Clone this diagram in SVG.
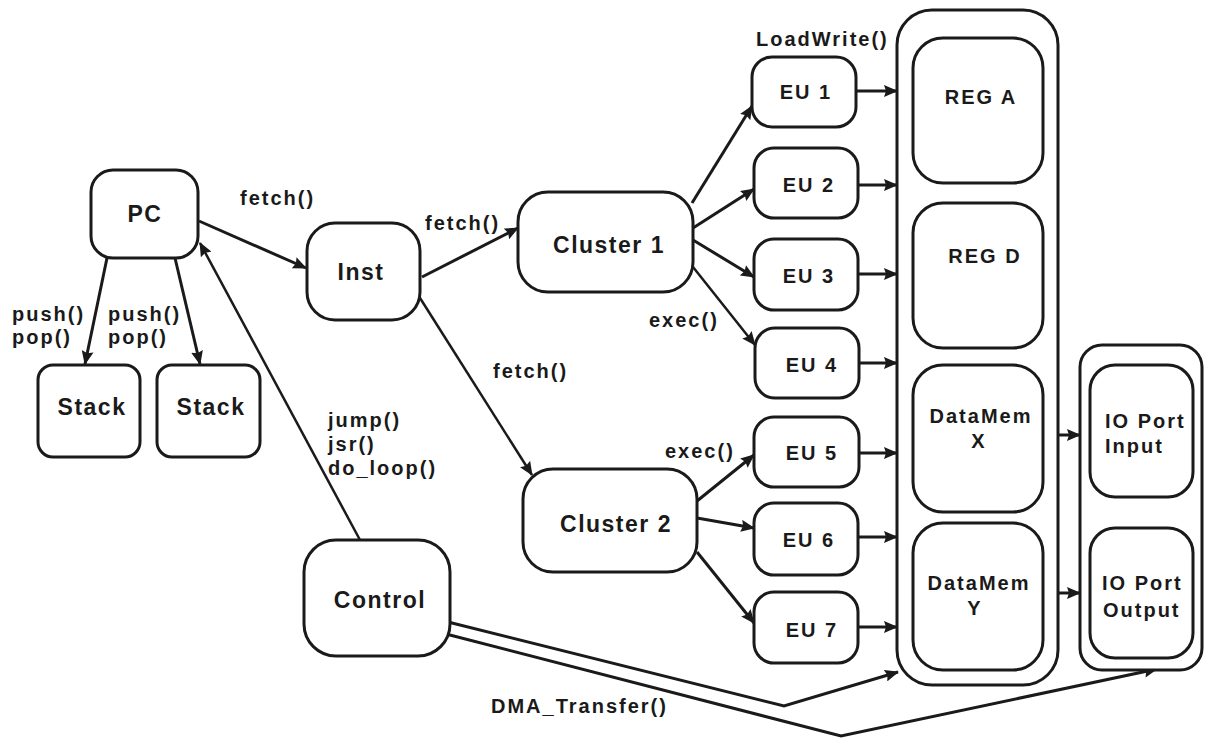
<svg xmlns="http://www.w3.org/2000/svg" width="1209" height="738" viewBox="0 0 1209 738">
<defs>
<style>
.box{fill:#fff;stroke:#1a1a1a;stroke-width:3}
.nl{font-family:"Liberation Sans",Arial,sans-serif;font-weight:bold;font-size:23px;letter-spacing:1.5px;fill:#1a1a1a;text-anchor:middle}
.sl{font-family:"Liberation Sans",Arial,sans-serif;font-weight:bold;font-size:20px;letter-spacing:2px;fill:#1a1a1a}
.c{fill:none;stroke:#1a1a1a;stroke-width:3}
.t{fill:none;stroke:#1a1a1a;stroke-width:2.5}
</style>
<marker id="ah" viewBox="0 0 14 12" refX="13" refY="6" markerWidth="14" markerHeight="12" markerUnits="userSpaceOnUse" orient="auto">
<path d="M0,0 L14,6 L0,12 L2,6 z" fill="#1a1a1a"/>
</marker>
</defs>
<rect width="1209" height="738" fill="#fff"/>

<g id="connectors">
<line class="c" x1="199" y1="221" x2="306" y2="268" marker-end="url(#ah)"/>
<line class="c" x1="107" y1="258" x2="85" y2="364" marker-end="url(#ah)"/>
<line class="c" x1="175" y1="258" x2="200" y2="364" marker-end="url(#ah)"/>
<line class="c" x1="422" y1="277" x2="518" y2="228" marker-end="url(#ah)"/>
<line class="t" x1="420" y1="298" x2="532" y2="475" marker-end="url(#ah)"/>
<line class="t" x1="360" y1="540" x2="200" y2="243" marker-end="url(#ah)"/>
<line class="c" x1="692" y1="203" x2="752" y2="106" marker-end="url(#ah)"/>
<line class="c" x1="693" y1="228" x2="754" y2="189" marker-end="url(#ah)"/>
<line class="c" x1="693" y1="240" x2="754" y2="277" marker-end="url(#ah)"/>
<line class="t" x1="693" y1="267" x2="755" y2="345" marker-end="url(#ah)"/>
<line class="c" x1="697" y1="501" x2="754" y2="455" marker-end="url(#ah)"/>
<line class="c" x1="697" y1="518" x2="754" y2="528" marker-end="url(#ah)"/>
<line class="c" x1="697" y1="552" x2="754" y2="623" marker-end="url(#ah)"/>
<line class="c" x1="856" y1="91" x2="897" y2="91" marker-end="url(#ah)"/>
<line class="c" x1="858" y1="185" x2="897" y2="185" marker-end="url(#ah)"/>
<line class="c" x1="858" y1="274" x2="897" y2="274" marker-end="url(#ah)"/>
<line class="c" x1="859" y1="363" x2="897" y2="363" marker-end="url(#ah)"/>
<line class="c" x1="859" y1="453" x2="897" y2="453" marker-end="url(#ah)"/>
<line class="c" x1="858" y1="537" x2="897" y2="537" marker-end="url(#ah)"/>
<line class="c" x1="858" y1="627" x2="897" y2="627" marker-end="url(#ah)"/>
<line class="c" x1="1058" y1="435" x2="1080" y2="435" marker-end="url(#ah)"/>
<line class="c" x1="1058" y1="593" x2="1080" y2="593" marker-end="url(#ah)"/>
<polyline class="c" points="448,622 784,706 898,672" marker-end="url(#ah)"/>
<polyline class="c" points="446,634 841,736 1157,669" marker-end="url(#ah)"/>
</g>

<g id="labels">
<text class="sl" x="240" y="205">fetch()</text>
<text class="sl" x="12" y="321">push()</text>
<text class="sl" x="12" y="344">pop()</text>
<text class="sl" x="108" y="321">push()</text>
<text class="sl" x="108" y="344">pop()</text>
<text class="sl" x="425" y="230">fetch()</text>
<text class="sl" x="493" y="378">fetch()</text>
<text class="sl" x="649" y="327">exec()</text>
<text class="sl" x="665" y="458">exec()</text>
<text class="sl" x="328" y="427">jump()</text>
<text class="sl" x="328" y="451">jsr()</text>
<text class="sl" x="328" y="475">do_loop()</text>
<text class="sl" x="756" y="46">LoadWrite()</text>
<text class="sl" x="491" y="713" font-size="21" letter-spacing="2.2">DMA_Transfer()</text>
</g>

<g id="PC"><rect class="box" x="91" y="170" width="107" height="88" rx="22"/><text class="nl" x="145" y="222">PC</text></g>
<g id="Stack1"><rect class="box" x="38" y="365" width="102" height="92" rx="15"/><text class="nl" x="92" y="415">Stack</text></g>
<g id="Stack2"><rect class="box" x="157" y="365" width="103" height="92" rx="15"/><text class="nl" x="211" y="415">Stack</text></g>
<g id="Inst"><rect class="box" x="307" y="223" width="113" height="97" rx="28"/><text class="nl" x="361" y="280">Inst</text></g>
<g id="Cluster1"><rect class="box" x="518" y="192" width="175" height="100" rx="30"/><text class="nl" x="609" y="253">Cluster 1</text></g>
<g id="Cluster2"><rect class="box" x="523" y="469" width="174" height="103" rx="30"/><text class="nl" x="616" y="532">Cluster 2</text></g>
<g id="Control"><rect class="box" x="304" y="540" width="146" height="116" rx="32"/><text class="nl" x="380" y="608">Control</text></g>

<g id="EU1"><rect class="box" x="752" y="57" width="104" height="70" rx="20"/><text class="sl" x="806" y="99" text-anchor="middle" letter-spacing="3">EU 1</text></g>
<g id="EU2"><rect class="box" x="754" y="148" width="104" height="70" rx="20"/><text class="sl" x="809" y="192" text-anchor="middle" letter-spacing="3">EU 2</text></g>
<g id="EU3"><rect class="box" x="754" y="239" width="104" height="71" rx="20"/><text class="sl" x="809" y="283" text-anchor="middle" letter-spacing="3">EU 3</text></g>
<g id="EU4"><rect class="box" x="755" y="328" width="104" height="70" rx="20"/><text class="sl" x="812" y="372" text-anchor="middle" letter-spacing="3">EU 4</text></g>
<g id="EU5"><rect class="box" x="754" y="417" width="105" height="70" rx="20"/><text class="sl" x="812" y="460" text-anchor="middle" letter-spacing="3">EU 5</text></g>
<g id="EU6"><rect class="box" x="754" y="503" width="104" height="72" rx="20"/><text class="sl" x="809" y="547" text-anchor="middle" letter-spacing="3">EU 6</text></g>
<g id="EU7"><rect class="box" x="754" y="592" width="104" height="71" rx="20"/><text class="sl" x="812" y="637" text-anchor="middle" letter-spacing="3">EU 7</text></g>

<g id="Memory">
<rect class="box" x="897" y="10" width="161" height="675" rx="35"/>
<g id="REGA"><rect class="box" x="913" y="38" width="130" height="145" rx="30"/><text class="sl" x="981" y="104" text-anchor="middle" letter-spacing="3">REG A</text></g>
<g id="REGD"><rect class="box" x="913" y="203" width="130" height="145" rx="30"/><text class="sl" x="985" y="263" text-anchor="middle" letter-spacing="3">REG D</text></g>
<g id="DataMemX"><rect class="box" x="913" y="365" width="130" height="147" rx="30"/><text class="sl" x="981" y="423" text-anchor="middle">DataMem</text><text class="sl" x="979" y="448" text-anchor="middle">X</text></g>
<g id="DataMemY"><rect class="box" x="913" y="523" width="130" height="147" rx="30"/><text class="sl" x="979" y="590" text-anchor="middle">DataMem</text><text class="sl" x="975" y="615" text-anchor="middle">Y</text></g>
</g>

<g id="IOPorts">
<rect class="box" x="1080" y="345" width="122" height="325" rx="22"/>
<g id="IOInput"><rect class="box" x="1090" y="365" width="103" height="132" rx="25"/><text class="sl" x="1105" y="428">IO Port</text><text class="sl" x="1105" y="453">Input</text></g>
<g id="IOOutput"><rect class="box" x="1090" y="528" width="103" height="130" rx="25"/><text class="sl" x="1102" y="590">IO Port</text><text class="sl" x="1103" y="617">Output</text></g>
</g>
</svg>
